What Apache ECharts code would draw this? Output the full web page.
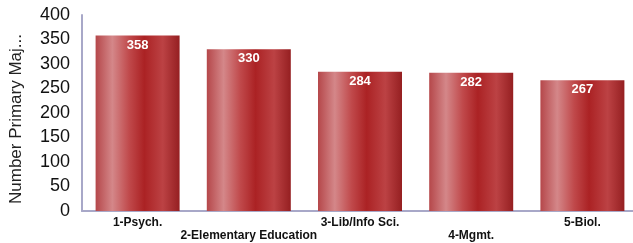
<!DOCTYPE html>
<html>
<head>
<meta charset="utf-8">
<script src="https://cdn.jsdelivr.net/npm/echarts@6/dist/echarts.min.js"></script>
<style>
  html, body { margin: 0; padding: 0; background: #fff; }
  #chart { width: 633px; height: 243px; }
</style>
</head>
<body>
<div id="chart"></div>
<script>
var categories = ['1-Psych.', '2-Elementary Education', '3-Lib/Info Sci.', '4-Mgmt.', '5-Biol.']
var majors = [358, 330, 284, 282, 267]
var yTicks = [0, 50, 100, 150, 200, 250, 300, 350, 400]

var chart = echarts.init(document.getElementById('chart'))

// bar shading: light streak left of centre, dark band right of centre
var barColor = new echarts.graphic.LinearGradient(0, 0, 1, 0, [
  { offset: 0, color: '#b5474a' },
  { offset: 0.2, color: '#d48789' },
  { offset: 0.4, color: '#c0494b' },
  { offset: 0.58, color: '#ab2224' },
  { offset: 0.8, color: '#bc4244' },
  { offset: 1, color: '#951f21' }
])

chart.setOption({
  animation: false,
  grid: {
    left: 82,
    right: -5,
    top: 15,
    bottom: 32,
    containLabel: false,
    outerBoundsMode: 'none'
  },
  xAxis: {
    type: 'category',
    data: categories,
    axisTick: { show: false },
    axisLine: { lineStyle: { color: '#a8a8c8', width: 2 } },
    axisLabel: {
      interval: 0,
      color: '#111',
      fontFamily: 'Liberation Sans',
      fontWeight: 'bold',
      fontSize: 12,
      lineHeight: 13,
      margin: 5,
      formatter: function (value, index) {
        // alternate labels on two rows
        return index % 2 ? '\n' + value : value
      }
    }
  },
  yAxis: {
    type: 'value',
    min: yTicks[0],
    max: yTicks[yTicks.length - 1],
    interval: 50,
    name: 'Number Primary Maj...',
    nameLocation: 'middle',
    nameRotate: 90,
    nameGap: 57,
    nameTextStyle: {
      color: '#222',
      fontFamily: 'Liberation Sans',
      fontSize: 17,
      padding: [0, 12, 0, 0]
    },
    splitLine: { show: false },
    axisTick: { show: false },
    axisLine: { show: true, lineStyle: { color: '#a8a8c8', width: 2 } },
    axisLabel: {
      color: '#111',
      fontFamily: 'Liberation Sans',
      fontSize: 18,
      margin: 12
    }
  },
  series: [
    {
      type: 'bar',
      data: majors,
      barWidth: 84,
      itemStyle: { color: barColor },
      label: {
        show: true,
        position: 'insideTop',
        distance: 3,
        color: '#fff',
        fontFamily: 'Liberation Sans',
        fontWeight: 'bold',
        fontSize: 13
      }
    }
  ]
})
</script>
</body>
</html>
